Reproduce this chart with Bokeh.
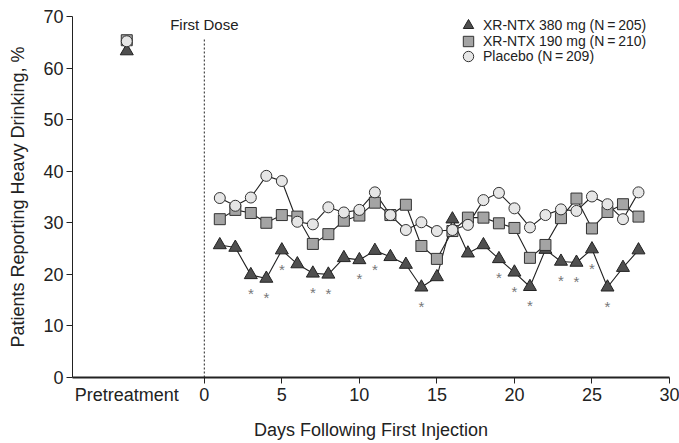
from bokeh.plotting import figure
from bokeh.models import Range1d, FixedTicker, Legend, LegendItem
from bokeh.core.properties import value
from bokeh.embed import file_html
from bokeh.resources import INLINE

days = list(range(1, 29))
xr380 = [25.7, 25.2, 19.9, 19.2, 24.7, 22.0, 20.2, 20.0, 23.2, 22.8, 24.6, 23.4, 21.9, 17.5,
         19.5, 30.7, 24.1, 25.7, 23.0, 20.4, 17.6, 24.8, 22.5, 22.3, 24.9, 17.5, 21.3, 24.7]
xr190 = [30.7, 32.5, 31.9, 30.0, 31.5, 31.2, 25.9, 27.8, 30.4, 31.4, 33.9, 31.5, 33.5, 25.5,
         23.0, 28.4, 31.0, 31.0, 29.9, 29.0, 23.2, 25.7, 30.9, 34.7, 28.9, 32.1, 33.6, 31.2]
placebo = [34.8, 33.3, 34.9, 39.1, 38.1, 30.2, 29.7, 33.0, 32.0, 32.5, 35.9, 31.5, 28.6, 30.1,
           28.4, 28.6, 29.6, 34.4, 35.8, 32.8, 29.1, 31.5, 32.6, 32.3, 35.1, 33.6, 30.7, 35.9]
pre_x = -5
pre_label = "Pretreatment"
pre_380 = 63.3
pre_190 = 65.4
pre_placebo = 65.2
sig_days = [3, 4, 5, 7, 8, 10, 11, 14, 19, 20, 21, 23, 24, 25, 26]
x_ticks = [0, 5, 10, 15, 20, 25, 30]
y_ticks = [0, 10, 20, 30, 40, 50, 60, 70]
labels = ["XR-NTX 380 mg (N\u2009=\u2009205)", "XR-NTX 190 mg (N\u2009=\u2009210)", "Placebo (N\u2009=\u2009209)"]

FONT = "Liberation Sans"
DARK = "#222222"

p = figure(width=679, height=443, x_range=Range1d(-8.5, 30), y_range=Range1d(0, 70),
           output_backend="svg", toolbar_location=None,
           min_border_left=72, min_border_right=10, min_border_top=16, min_border_bottom=66)
p.outline_line_color = None
p.xgrid.visible = False
p.ygrid.visible = False

for ax in (p.xaxis[0], p.yaxis[0]):
    ax.major_label_text_font = FONT
    ax.major_label_text_font_size = "18px"
    ax.major_label_text_color = DARK
    ax.axis_label_text_font = FONT
    ax.axis_label_text_font_size = "18px"
    ax.axis_label_text_font_style = "normal"
    ax.axis_label_text_color = DARK
    ax.axis_line_color = DARK

# x axis: labels as major ticks (no marks), tick marks drawn as minor ticks
p.xaxis.ticker = FixedTicker(ticks=[pre_x] + x_ticks, minor_ticks=x_ticks)
p.xaxis.major_label_overrides = {pre_x: pre_label}
p.xaxis.major_tick_line_color = None
p.xaxis.major_tick_in = 0
p.xaxis.major_tick_out = 6
p.xaxis.minor_tick_in = 0
p.xaxis.minor_tick_out = 6
p.xaxis.minor_tick_line_color = DARK
p.xaxis.axis_line_width = 2
p.xaxis.major_label_standoff = 1
p.xaxis.axis_label = "Days Following First Injection"
p.xaxis.axis_label_standoff = 12

p.yaxis.ticker = FixedTicker(ticks=y_ticks)
p.yaxis.minor_tick_line_color = None
p.yaxis.major_tick_in = 0
p.yaxis.major_tick_out = 6
p.yaxis.major_tick_line_color = DARK
p.yaxis.axis_label = "Patients Reporting Heavy Drinking, %"
p.yaxis.major_label_standoff = 3
p.yaxis.axis_label_standoff = 12

# first dose line
p.segment(x0=[0], y0=[0], x1=[0], y1=[65.9], line_color=DARK, line_width=1,
          line_dash="2 2")
p.text(x=[0], y=[68.4], text=["First Dose"], text_align="center", text_baseline="middle",
       text_font=value(FONT), text_font_size="15px", text_color=DARK)

for ys in (xr380, xr190, placebo):
    p.line(days, ys, line_color=DARK, line_width=1.1)

tri = p.scatter(days + [pre_x], xr380 + [pre_380], marker="triangle", size=13,
                fill_color="#4f4f4f", line_color=DARK, line_width=1)
sq = p.scatter(days + [pre_x], xr190 + [pre_190], marker="square", size=11,
               fill_color="#a4a4a4", line_color="#333333", line_width=1)
ci = p.scatter(days + [pre_x], placebo + [pre_placebo], marker="circle", size=11,
               fill_color="#e6e6e6", line_color="#333333", line_width=1)

sig_y = [xr380[d - 1] for d in sig_days]
p.text(x=sig_days, y=sig_y, text=["*"] * len(sig_days), text_align="center",
       text_baseline="alphabetic", y_offset=19, text_font=value(FONT),
       text_font_size="15px", text_color="#777777")

frame_bottom = 376.7
row_centers = [25, 40.5, 56]
for lab, rend, yc in zip(labels, (tri, sq, ci), row_centers):
    lg = Legend(items=[LegendItem(label=lab, renderers=[rend])],
                location=(383, round(frame_bottom - (yc + 13))), glyph_width=26,
                glyph_height=26, label_height=14, spacing=0, padding=0, margin=0,
                label_standoff=2, label_text_font=FONT, label_text_font_size="14px",
                label_text_color=DARK, border_line_color=None, background_fill_alpha=0)
    p.add_layout(lg)

open("out.html", "w").write(file_html(p, INLINE))
